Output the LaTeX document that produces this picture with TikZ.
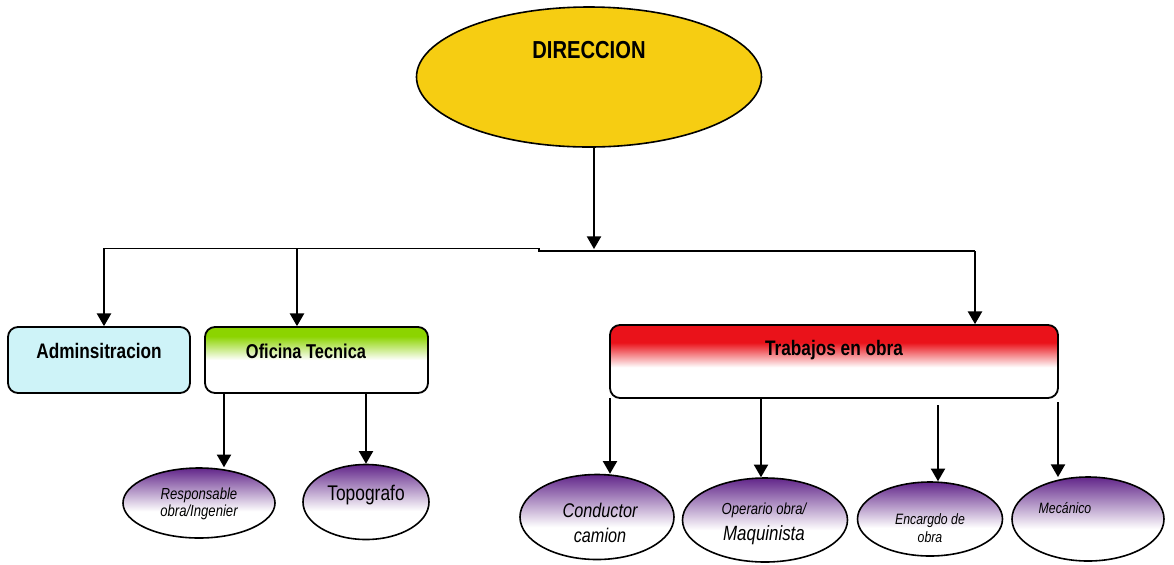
\documentclass[tikz,border=0pt]{standalone}
\usepackage{fontspec}
\setmainfont{Liberation Sans}
\newfontfamily\chartfont[FakeStretch=0.82]{Liberation Sans}
\usetikzlibrary{arrows}
\usetikzlibrary{shapes.geometric}

\definecolor{dirYellow}{RGB}{246,205,18}
\definecolor{adminBlue}{RGB}{206,243,248}
\definecolor{ofiGreen}{RGB}{140,212,0}
\definecolor{obraRed}{RGB}{234,18,26}
\definecolor{rolePurple}{RGB}{98,38,138}

\pgfdeclareverticalshading{greenfade}{100bp}{color(0bp)=(white); color(50bp)=(white); color(68bp)=(ofiGreen); color(100bp)=(ofiGreen)}
\pgfdeclareverticalshading{redfade}{100bp}{color(0bp)=(white); color(46bp)=(white); color(63bp)=(obraRed); color(100bp)=(obraRed)}
\pgfdeclareverticalshading{purplefade}{100bp}{color(0bp)=(white); color(44bp)=(white); color(75bp)=(rolePurple); color(100bp)=(rolePurple)}

\begin{document}
\begin{tikzpicture}[x=0.5pt,y=-0.5pt,
  unitbox/.style={draw,line width=0.9pt,rounded corners=5pt,inner sep=0pt},
  rolebox/.style={draw,line width=0.8pt,ellipse,inner sep=0pt,shading=purplefade},
  headtext/.style={font=\chartfont\bfseries\fontsize{#1}{#1}\selectfont},
  roletext/.style={font=\chartfont\itshape\fontsize{#1}{#1}\selectfont,align=center},
  link/.style={-triangle 60,line width=0.7pt}]
\useasboundingbox (0,0) rectangle (1174,564);

\node[draw,line width=0.8pt,ellipse,fill=dirYellow,minimum width=172.5pt,minimum height=70pt] (dir) at (589,77) {};
\node[unitbox,fill=adminBlue,minimum width=91pt,minimum height=33pt] (admin) at (99,360) {};
\node[unitbox,shading=greenfade,minimum width=111.5pt,minimum height=33pt] (ofi) at (316.5,360) {};
\node[unitbox,shading=redfade,minimum width=224pt,minimum height=36.5pt] (obra) at (834,361.5) {};
\node[rolebox,minimum width=76pt,minimum height=35pt] (resp) at (199,503) {};
\node[rolebox,minimum width=63pt,minimum height=37.5pt] (topo) at (366,502) {};
\node[rolebox,minimum width=77pt,minimum height=42.5pt] (cond) at (597,517) {};
\node[rolebox,minimum width=82.5pt,minimum height=42pt] (oper) at (765,520) {};
\node[rolebox,minimum width=72.5pt,minimum height=37pt] (enc) at (930,519) {};
\node[rolebox,minimum width=76pt,minimum height=42pt] (mec) at (1088,519) {};

\node[headtext=12.3] (dirtext) at (589,50) {DIRECCION};
\node[headtext=10.5] (admintext) at (99,351) {Adminsitracion};
\node[headtext=10] (ofitext) at (306,351) {Oficina Tecnica};
\node[headtext=10.5] (obratext) at (834,350) {Trabajos en obra};
\node[roletext=8] (resptext) at (199,504) {Responsable\\[0.5pt]obra/Ingenier};
\node[font=\chartfont\fontsize{10.6}{10.6}\selectfont] (topotext) at (366,495) {Topografo};
\node[roletext=9.9] (condtext) at (600,523) {Conductor\\[2.5pt]camion};
\node[roletext=8] (opertext) at (764,510) {Operario obra/};
\node[roletext=10.3] (maqtext) at (764,535) {Maquinista};
\node[roletext=7.5] (enctext) at (930,528) {Encargdo de\\[1.5pt]obra};
\node[roletext=7.5] (mectext) at (1065,508) {Mecánico};

\coordinate (busl) at (104,248.3);
\coordinate (busm) at (297,248.3);
\coordinate (stepa) at (539,248.3);
\coordinate (stepb) at (539,251);
\coordinate (busr) at (975,251);
\coordinate (busc) at (594,251);
\coordinate (resparrow) at (224,393);
\coordinate (condarrow) at (610,398);
\coordinate (operarrow) at (761,398);
\coordinate (encarrow) at (938,405);
\coordinate (mecarrow) at (1058,402);

\draw[line width=0.7pt] (busl) -- (stepa) -- (stepb) -- (busr);
\draw[link] (dir.south -| busc) -- ([yshift=1pt]busc);
\draw[link] (busl) -- (busl |- admin.north);
\draw[link] (busm) -- (busm |- ofi.north);
\draw[link] (busr) -- (busr |- obra.north);
\draw[link] (resparrow) -- (resparrow |- resp.north);
\draw[link] (ofi.south -| topo.north) -- (topo.north);
\draw[link] (condarrow) -- (condarrow |- cond.north);
\draw[link] (operarrow) -- (operarrow |- oper.north);
\draw[link] (encarrow) -- (encarrow |- enc.north);
\draw[link] (mecarrow) -- (1058,477);
\end{tikzpicture}
\end{document}
